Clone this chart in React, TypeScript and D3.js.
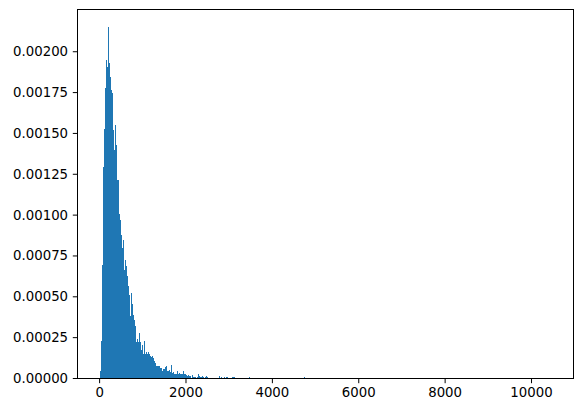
import React from "react";
import * as d3 from "d3";

// Histogram (density) – bins of equal width between data min and max
const dataMin = 10;
const dataMax = 10450;
const binCount = 450;

// densities of the first contiguous bins (bin 0 .. 108)
const mainDensity = [
  0.0000448, 0.000232, 0.000697, 0.001293, 0.001529, 0.00178, 0.001951, 0.001906, 0.002151, 0.001933,
  0.001847, 0.001766, 0.00175, 0.001523, 0.0014, 0.001553, 0.001431, 0.001217, 0.001217, 0.001009,
  0.000972, 0.000881, 0.000799, 0.000846, 0.000663, 0.000728, 0.000687, 0.000626, 0.000569, 0.000514,
  0.000381, 0.000524, 0.000459, 0.000391, 0.000361, 0.00032, 0.000222, 0.000243, 0.000222, 0.000279,
  0.000222, 0.000177, 0.000208, 0.000147, 0.000232, 0.000151, 0.000161, 0.000147, 0.000161, 0.000147,
  0.000137, 0.000133, 0.000137, 0.000126, 0.000106, 0.0000958, 0.0000754, 0.0000754, 0.0000754, 0.0000795,
  0.0000652, 0.0000652, 0.0000448, 0.0000591, 0.0000591, 0.0000713, 0.0000754, 0.0000448, 0.0000448, 0.000055,
  0.0000387, 0.0000856, 0.0000346, 0.0000387, 0.0000306, 0.0000306, 0.0000306, 0.0000448, 0.0000306, 0.0000346,
  0.0000306, 0.0000306, 0.0000245, 0.0000448, 0.0000306, 0.0000245, 0.0000204, 0.0000183, 0.0000204, 0.0000143,
  0.0000183, 0.0000041, 0.0000204, 0.0000082, 0.0000082, 0.0000102, 0.0000041, 0.0000082, 0.0000245, 0.0000183,
  0.0000082, 0.0000102, 0.0000183, 0.0000082, 0.0000041, 0.0000082, 0.0000143, 0.0000082, 0.0000061,
];

// sparse tail bins (bin index, density)
const tailBins = [111, 112, 119, 121, 124, 126, 127, 130, 132, 133, 134, 149, 204, 449];
const tailDensity = [
  0.0000061, 0.0000061, 0.0000183, 0.0000102, 0.0000102, 0.0000082, 0.0000082, 0.0000061, 0.0000102,
  0.0000102, 0.0000102, 0.0000082, 0.0000082, 0.000001,
];

const yTicks = [0, 0.00025, 0.0005, 0.00075, 0.001, 0.00125, 0.0015, 0.00175, 0.002];
const xTicks = [0, 2000, 4000, 6000, 8000, 10000];

const W = 583;
const H = 413;
const left = 77.5;
const right = 573.5;
const top = 9.5;
const bottom = 378.5;
const FONT = "DejaVu Sans, sans-serif";
const COLOR = "#1f77b4";

export default function App() {
  const binW = (dataMax - dataMin) / binCount;
  const bins: { i: number; d: number }[] = [];
  mainDensity.forEach((d, i) => bins.push({ i, d }));
  tailBins.forEach((b, k) => bins.push({ i: b, d: tailDensity[k] }));

  const span = dataMax - dataMin;
  const x = d3
    .scaleLinear()
    .domain([dataMin - 0.05 * span, dataMax + 0.05 * span])
    .range([left, right]);
  const maxD = d3.max(bins, (b) => b.d) as number;
  const y = d3.scaleLinear().domain([0, maxD * 1.05]).range([bottom, top]);

  const fmt = (v: number) => v.toFixed(5);

  return (
    <svg
      width={W}
      height={H}
      style={{ position: "absolute", left: 0, top: 0, background: "#fff" }}
    >
      <rect x={0} y={0} width={W} height={H} fill="#fff" />
      <g shapeRendering="crispEdges">
        {bins.map((b) => {
          const x0 = Math.round(x(dataMin + b.i * binW));
          const x1 = Math.max(x0 + 1, Math.round(x(dataMin + (b.i + 1) * binW)));
          const yt = Math.round(y(b.d));
          return (
            <rect
              key={b.i}
              x={x0}
              y={Math.min(yt, 378)}
              width={x1 - x0}
              height={Math.max(1, 379 - yt)}
              fill={COLOR}
            />
          );
        })}
      </g>
      {/* frame */}
      <rect
        x={left}
        y={top}
        width={right - left}
        height={bottom - top}
        fill="none"
        stroke="#000"
        strokeWidth={1}
      />
      {yTicks.map((t) => (
        <g key={"y" + t}>
          <line x1={left - 4.7} x2={left} y1={y(t)} y2={y(t)} stroke="#000" strokeWidth={1} />
          <text
            x={left - 9.4}
            y={y(t)}
            textAnchor="end"
            dominantBaseline="central"
            fontFamily={FONT}
            fontSize={13.3}
            fill="#000"
          >
            {fmt(t)}
          </text>
        </g>
      ))}
      {xTicks.map((t) => (
        <g key={"x" + t}>
          <line x1={x(t)} x2={x(t)} y1={bottom} y2={bottom + 4.7} stroke="#000" strokeWidth={1} />
          <text
            x={x(t)}
            y={bottom + 9.4}
            textAnchor="middle"
            dominantBaseline="hanging"
            fontFamily={FONT}
            fontSize={13.3}
            fill="#000"
          >
            {t}
          </text>
        </g>
      ))}
    </svg>
  );
}
